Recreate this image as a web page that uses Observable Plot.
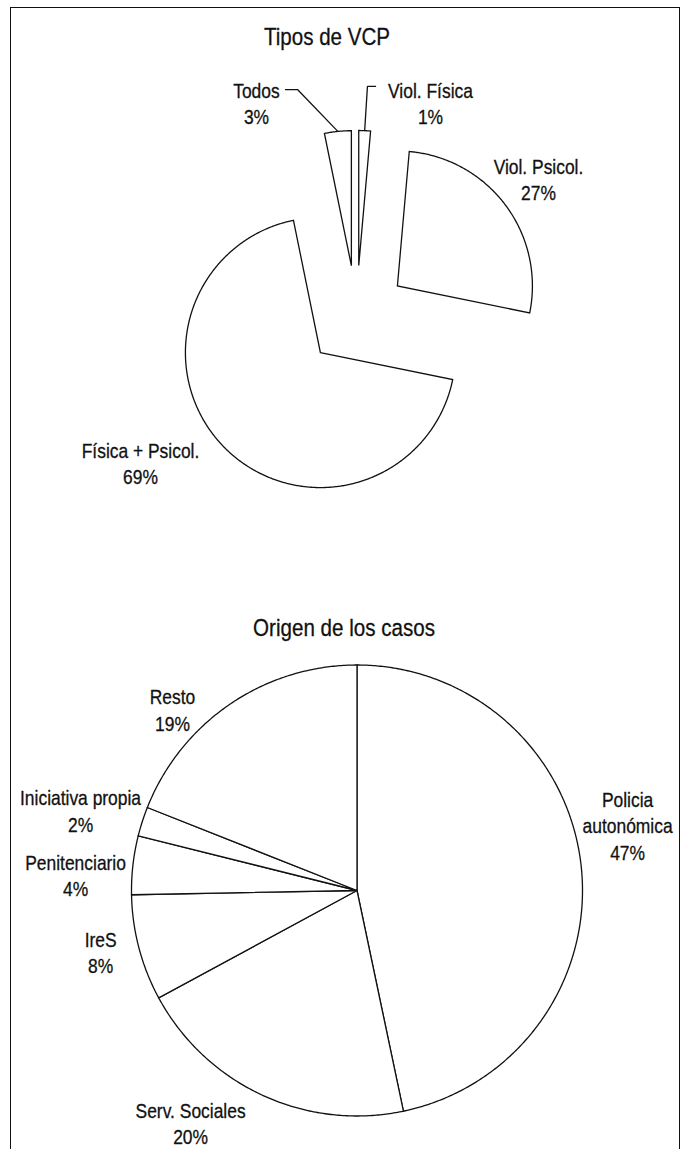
<!DOCTYPE html>
<html><head><meta charset="utf-8">
<script src="https://cdn.jsdelivr.net/npm/d3@7"></script>
<script src="https://cdn.jsdelivr.net/npm/@observablehq/plot@0.6"></script>
<style>
html,body{margin:0;padding:0;background:#fff;}
#page{position:relative;width:686px;height:1149px;overflow:hidden;font-family:"Liberation Sans",Arial,sans-serif;color:#111;}
#frame{position:absolute;left:10px;top:6.5px;width:669.5px;height:1300px;border:1.6px solid #111;box-sizing:border-box;}
.title{position:absolute;font-size:24.5px;white-space:nowrap;transform:translateX(-50%) scaleX(0.84);line-height:24px;-webkit-text-stroke:0.3px #111;}
.chart{position:absolute;left:0;}
</style></head><body>
<div id="page"><div id="frame"></div>
<div class="title" id="t1"></div>
<div id="c1" class="chart"></div>
<div class="title" id="t2"></div>
<div id="c2" class="chart"></div>
</div>
<script>
// ---------- data ----------
const tiposTitle = "Tipos de VCP";
const tiposCategories = ["Viol. Física", "Viol. Psicol.", "Física + Psicol.", "Todos"];
const tiposValues = [1.4, 26.8, 68.6, 3.2];
const tiposLabels = ["1%", "27%", "69%", "3%"];

const origenTitle = "Origen de los casos";
const origenCategories = ["Policia\nautonómica", "Serv. Sociales", "IreS", "Penitenciario", "Iniciativa propia", "Resto"];
const origenValues = [46.7, 20.4, 7.6, 4.2, 2.1, 19.0];
const origenLabels = ["47%", "20%", "8%", "4%", "2%", "19%"];

// ---------- layout (page pixels, radius units) ----------
const W = 686;
const tiposFrame = {cx: 356, cy: 316, r: 135, top: 60, height: 450, explode: 0.378};
const origenFrame = {cx: 356.5, cy: 890, r: 225.5, top: 640, height: 509, explode: 0};
// label anchor positions, in radius units relative to the pie centre (y up)
const tiposLabelPos = [[0.548, 1.587], [1.348, 1.024], [-1.6, -1.081], [-0.741, 1.587]];
// leader elbows for the thin slices (radius units)
const tiposLeaders = {0: [[0.081, 1.704], [0.141, 1.704]], 3: [[-0.437, 1.681], [-0.526, 1.681]]};
const origenLabelPos = [[1.2, 0.291], [-0.738, -1.028], [-1.137, -0.270], [-1.248, 0.072], [-1.226, 0.356], [-0.818, 0.804]];

const FONT = '"Liberation Sans",Arial,sans-serif';
const NARROW = 0.85;

function pieGeometry(values, names, explode) {
  const arcs = d3.pie().sort(null).value(d => d)(values);
  const pts = [];
  const mids = [];
  arcs.forEach((a, i) => {
    const mid = (a.startAngle + a.endAngle) / 2;
    const ox = explode * Math.sin(mid), oy = explode * Math.cos(mid);
    mids.push({ox, oy, mid});
    pts.push({slice: names[i], x: ox, y: oy});
    const n = Math.max(2, Math.ceil((a.endAngle - a.startAngle) / (Math.PI / 360)));
    for (let k = 0; k <= n; k++) {
      const t = a.startAngle + (a.endAngle - a.startAngle) * k / n;
      pts.push({slice: names[i], x: ox + Math.sin(t), y: oy + Math.cos(t)});
    }
  });
  return {arcs, pts, mids};
}

function domains(f) {
  return {
    x: [(0 - f.cx) / f.r, (W - f.cx) / f.r],
    y: [(f.cy - (f.top + f.height)) / f.r, (f.cy - f.top) / f.r]
  };
}

function drawPie(f, categories, values, labels, labelPos, leaders) {
  const g = pieGeometry(values, categories, f.explode);
  const dom = domains(f);
  const labelRows = categories.map((c, i) => ({x: labelPos[i][0], y: labelPos[i][1], text: c + "\n" + labels[i]}));
  const leaderPts = [];
  Object.entries(leaders || {}).forEach(([k, elbows]) => {
    const m = g.mids[+k];
    leaderPts.push({id: k, x: m.ox + Math.sin(m.mid), y: m.oy + Math.cos(m.mid)});
    elbows.forEach(e => leaderPts.push({id: k, x: e[0], y: e[1]}));
  });
  const svg = Plot.plot({
    width: W, height: f.height,
    margin: 0,
    x: {domain: dom.x, axis: null},
    y: {domain: dom.y, axis: null},
    style: {fontFamily: FONT, background: "transparent", overflow: "visible"},
    marks: [
      Plot.line(g.pts, {x: "x", y: "y", z: "slice", curve: "linear-closed", fill: "white", stroke: "#111", strokeWidth: 1.3, strokeLinejoin: "miter", strokeMiterlimit: 4}),
      Plot.line(leaderPts, {x: "x", y: "y", z: "id", stroke: "#111", strokeWidth: 1.3, strokeLinejoin: "miter"}),
      Plot.text(labelRows, {x: "x", y: "y", text: "text", textAnchor: "middle", lineAnchor: "middle", lineHeight: 1.29, fontSize: 20.5, fill: "#111", stroke: "#111", strokeWidth: 0.3})
    ]
  });
  // condense the label glyphs horizontally (Helvetica Condensed look)
  svg.querySelectorAll('g[aria-label="text"] text').forEach(t => {
    const tr = t.getAttribute("transform") || "";
    t.setAttribute("transform", tr + ` scale(${NARROW},1)`);
  });
  return svg;
}

const c1 = document.getElementById("c1");
c1.style.top = tiposFrame.top + "px";
c1.appendChild(drawPie(tiposFrame, tiposCategories, tiposValues, tiposLabels, tiposLabelPos, tiposLeaders));
const c2 = document.getElementById("c2");
c2.style.top = origenFrame.top + "px";
c2.appendChild(drawPie(origenFrame, origenCategories, origenValues, origenLabels, origenLabelPos, null));

const t1 = document.getElementById("t1");
t1.textContent = tiposTitle; t1.style.left = "327px"; t1.style.top = "25px";
const t2 = document.getElementById("t2");
t2.textContent = origenTitle; t2.style.left = "344px"; t2.style.top = "616px";
</script>
</body></html>
